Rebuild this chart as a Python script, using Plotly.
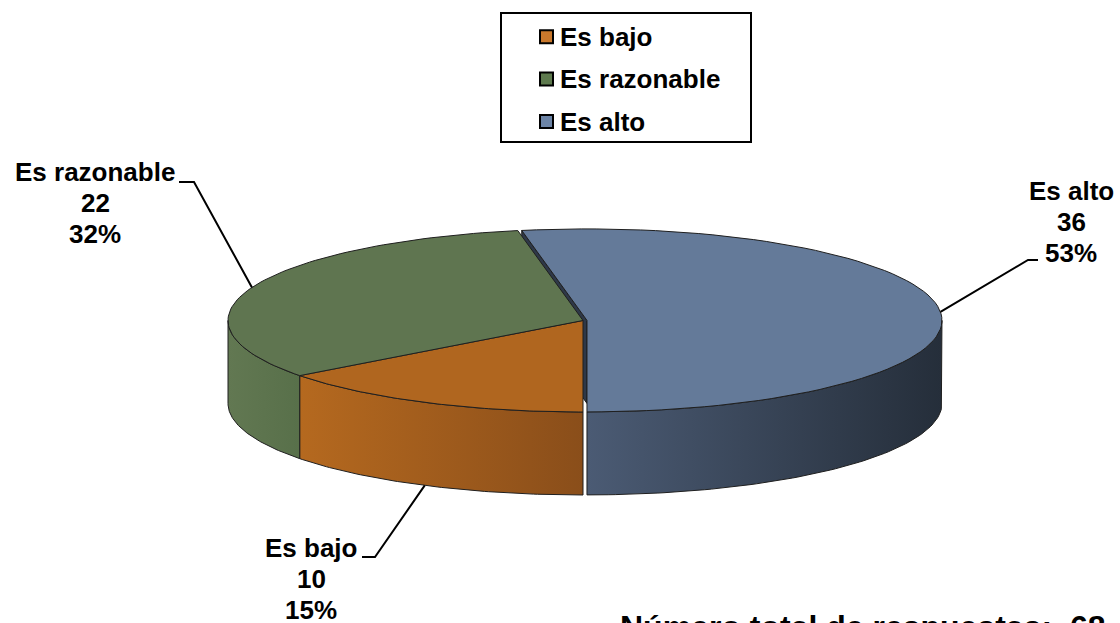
import numpy as np
import plotly.graph_objects as go

# ---------------- data ----------------
categories = ["Es bajo", "Es razonable", "Es alto"]
values = [10, 22, 36]
top_colors = ["#B0661F", "#5F7550", "#647A99"]
side_colors_left = ["#B5691F", "#627852", "#4B5B74"]
side_colors_right = ["#8A4E1A", "#58704A", "#252E3A"]
legend_colors = ["#C9782C", "#5E7A4E", "#6C84A6"]
explode = [0, 0, 4]
total_text = "Número total de respuestas:\u00a0\u00a068"

# label placement (text centre x, first line y, elbow x, elbow y, tick end x)
label_pos = {
    "Es bajo": (311, 548, 375, 557, 362),
    "Es razonable": (95, 172, 194, 182, 179),
    "Es alto": (1071, 191, 1028, 260, 1038),
}

# ---------------- geometry of the 3D pie ----------------
W, H = 1120, 623
cx, cy, rx, ry, depth = 583, 320.5, 355, 91.5, 83
start_angle = 270.0  # slices run clockwise from the bottom

total = sum(values)
fracs = [v / total for v in values]


def pt(theta, dz=0.0, off=(0.0, 0.0)):
    t = np.radians(theta)
    return cx + rx * np.cos(t) + off[0], cy - ry * np.sin(t) + dz + off[1]


def arc(a, b, dz=0.0, off=(0.0, 0.0), n=80):
    th = np.linspace(a, b, n)
    xs, ys = pt(th, dz, off)
    return list(xs), list(ys)


fig = go.Figure()
outline = dict(color="#1f1f1f", width=1)

slices = []
a = start_angle
for i, f in enumerate(fracs):
    b = a - 360 * f
    mid = (a + b) / 2
    t = np.radians(mid)
    off = (explode[i] * np.cos(t), -explode[i] * ry / rx * np.sin(t))
    slices.append((a, b, mid, off))
    a = b

# radial wall of exploded slice (visible through the gap)
for i, (a, b, mid, off) in enumerate(slices):
    if explode[i]:
        x0, y0 = cx + off[0], cy + off[1]
        x1, y1 = pt(a, 0, off)
        fig.add_trace(go.Scatter(
            x=[x0, x1, x1, x0, x0], y=[y0, y1, y1 + depth, y0 + depth, y0],
            mode="lines", fill="toself", fillcolor="#2E3848",
            line=outline, showlegend=False, hoverinfo="skip"))

# outer side walls (front half only)
for i, (a, b, mid, off) in enumerate(slices):
    lo, hi = min(a, b), max(a, b)
    for k in (-1, 0, 1):
        s, e = max(lo, 180 + 360 * k), min(hi, 360 + 360 * k)
        if e > s:
            xt, yt = arc(s, e, 0, off)
            xb, yb = arc(e, s, depth, off)
            fig.add_trace(go.Scatter(
                x=xt + xb + [xt[0]], y=yt + yb + [yt[0]],
                mode="lines", fill="toself",
                fillgradient=dict(type="horizontal",
                                  colorscale=[[0, side_colors_left[i]],
                                              [1, side_colors_right[i]]]),
                line=outline, showlegend=False,
                name=categories[i], hoverinfo="name"))

# top faces
for i, (a, b, mid, off) in enumerate(slices):
    xs, ys = arc(a, b, 0, off)
    c = (cx + off[0], cy + off[1])
    fig.add_trace(go.Scatter(
        x=[c[0]] + xs + [c[0]], y=[c[1]] + ys + [c[1]],
        mode="lines", fill="toself", fillcolor=top_colors[i],
        line=outline, showlegend=False,
        name=categories[i], hoverinfo="name"))

# data labels with leader lines
FAM = "Liberation Sans, Arial, sans-serif"
font = dict(family=FAM, size=26, color="black")
for i, (a, b, mid, off) in enumerate(slices):
    cat = categories[i]
    tx, ty, ex, ey, kx = label_pos[cat]
    front = np.sin(np.radians(mid)) < 0
    px, py = pt(mid, depth if front else 0, off)
    fig.add_trace(go.Scatter(
        x=[px, ex, kx], y=[py, ey, ey], mode="lines",
        line=dict(color="black", width=2), showlegend=False, hoverinfo="skip"))
    lines = [cat, str(values[i]), f"{round(100 * values[i] / total)}%"]
    for j, s in enumerate(lines):
        fig.add_annotation(x=tx, y=ty + 31 * j, text=f"<b>{s}</b>",
                           showarrow=False, xanchor="center", yanchor="middle",
                           font=font)

# legend (boxed key)
leg_x0, leg_y0, leg_x1, leg_y1 = 501, 13, 751, 142
leg_mx, leg_tx, leg_row0, leg_dy = 546.5, 558, 36.7, 42.4
fig.add_shape(type="rect", x0=leg_x0, y0=leg_y0, x1=leg_x1, y1=leg_y1,
              line=dict(color="black", width=2), fillcolor="white", layer="below")
fig.add_trace(go.Scatter(
    x=[leg_mx] * len(categories),
    y=[leg_row0 + leg_dy * i for i in range(len(categories))],
    mode="markers", showlegend=False, hoverinfo="skip",
    marker=dict(symbol="square", size=13, color=legend_colors,
                line=dict(color="black", width=2))))
for i, cat in enumerate(categories):
    fig.add_annotation(x=leg_tx, y=leg_row0 + leg_dy * i, text=f"<b>{cat}</b>",
                       showarrow=False, xanchor="left", yanchor="middle",
                       font=font)

fig.add_annotation(x=618, y=607, text=f"<b>{total_text}</b>", showarrow=False,
                   xanchor="left", yanchor="top",
                   font=dict(family=FAM, size=32, color="black"))

fig.update_layout(
    width=W, height=H,
    margin=dict(l=0, r=0, t=0, b=0),
    paper_bgcolor="white", plot_bgcolor="white",
    xaxis=dict(range=[0, W], visible=False, fixedrange=True),
    yaxis=dict(range=[H, 0], visible=False, fixedrange=True),
    showlegend=False,
)

fig.write_html("out.html", config={"displayModeBar": False},
               post_script="document.body.style.margin='0';"
                           "document.body.style.overflow='hidden';")
